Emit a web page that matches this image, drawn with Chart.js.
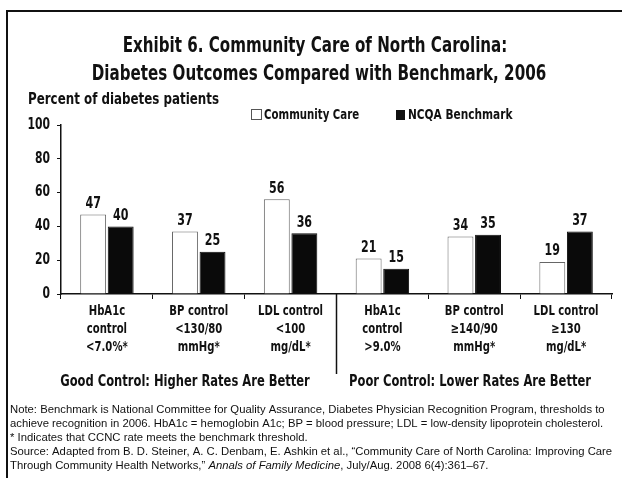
<!DOCTYPE html>
<html>
<head>
<meta charset="utf-8">
<script src="https://cdn.jsdelivr.net/npm/chart.js@4"></script>
<style>
html,body{margin:0;padding:0;background:#fff;}
#wrap{position:relative;width:622px;height:478px;}
</style>
</head>
<body>
<div id="wrap"><canvas id="myChart" width="622" height="478"></canvas></div>
<script>
// data
var categories=[
  ["HbA1c","control","<7.0%*"],
  ["BP control","<130/80","mmHg*"],
  ["LDL control","<100","mg/dL*"],
  ["HbA1c","control",">9.0%"],
  ["BP control","\u2265140/90","mmHg*"],
  ["LDL control","\u2265130","mg/dL*"]
];
var communityCare=[47,37,56,21,34,19];
var ncqaBenchmark=[40,25,36,15,35,37];
var yTicks=[0,20,40,60,80,100];
var groupLabels=["Good Control: Higher Rates Are Better","Poor Control: Lower Rates Are Better"];
var titleLines=["Exhibit 6. Community Care of North Carolina:","Diabetes Outcomes Compared with Benchmark, 2006"];
var notes=[
  "Note: Benchmark is National Committee for Quality Assurance, Diabetes Physician Recognition Program, thresholds to",
  "achieve recognition in 2006. HbA1c = hemoglobin A1c; BP = blood pressure; LDL = low-density lipoprotein cholesterol.",
  "* Indicates that CCNC rate meets the benchmark threshold.",
  "Source: Adapted from B. D. Steiner, A. C. Denbam, E. Ashkin et al., \u201cCommunity Care of North Carolina: Improving Care",
  "Through Community Health Networks,\u201d |Annals of Family Medicine|, July/Aug. 2008 6(4):361\u201367."
];

var narrow='"Liberation Sans Narrow","DejaVu Sans Condensed","Arial Narrow",sans-serif';
var plain='"Liberation Sans","DejaVu Sans",sans-serif';

// squeeze text sideways, the original face is a condensed one
function sText(ctx,txt,x,y,sx){
  ctx.save();
  ctx.translate(x,y);
  ctx.scale(sx,1);
  ctx.fillText(txt,0,0);
  ctx.restore();
}

var extras={
  id:'extras',
  afterDraw:function(chart){
    var ctx=chart.ctx;
    var xs=chart.scales.x, ys=chart.scales.y;
    ctx.save();
    // frame (left + top)
    ctx.strokeStyle='#111';
    ctx.lineWidth=2;
    ctx.beginPath();
    ctx.moveTo(7,478);ctx.lineTo(7,11);ctx.lineTo(622,11);
    ctx.stroke();
    // title
    ctx.fillStyle='#111';
    ctx.textAlign='center';
    ctx.textBaseline='middle';
    ctx.font='bold 21px '+narrow;
    sText(ctx,titleLines[0],315,47,0.8);
    sText(ctx,titleLines[1],319,75,0.8);
    // y axis title
    ctx.textAlign='left';
    ctx.font='bold 15px '+narrow;
    sText(ctx,"Percent of diabetes patients",28,100,0.88);
    // legend
    ctx.font='bold 14px '+narrow;
    ctx.lineWidth=1;
    ctx.strokeStyle='#555';
    ctx.fillStyle='#fff';
    ctx.fillRect(251.5,109.5,10,10);
    ctx.strokeRect(251.5,109.5,10,10);
    ctx.fillStyle='#111';
    sText(ctx,"Community Care",264,115,0.81);
    ctx.fillRect(396,110,9,10);
    sText(ctx,"NCQA Benchmark",408,115,0.84);
    // y tick labels
    ctx.textAlign='right';
    ctx.font='bold 15px '+narrow;
    ys.ticks.forEach(function(t){
      sText(ctx,String(t.value),50,ys.getPixelForValue(t.value),0.8);
    });
    // x tick labels
    ctx.textAlign='center';
    ctx.font='bold 14px '+narrow;
    chart.data.labels.forEach(function(lines,i){
      var x=xs.getPixelForValue(i);
      lines.forEach(function(l,k){
        sText(ctx,l,x,311+18*k,0.8);
      });
    });
    // value labels
    ctx.textBaseline='bottom';
    ctx.font='bold 15px '+narrow;
    chart.data.datasets.forEach(function(ds,di){
      chart.getDatasetMeta(di).data.forEach(function(bar,i){
        sText(ctx,String(ds.data[i]),bar.x,bar.y-3,0.82);
      });
    });
    // divider between groups
    var mid=(xs.getPixelForValue(2)+xs.getPixelForValue(3))/2;
    ctx.strokeStyle='#111';
    ctx.lineWidth=1.5;
    ctx.beginPath();
    ctx.moveTo(mid,ys.bottom);ctx.lineTo(mid,374);
    ctx.stroke();
    // group labels
    ctx.textBaseline='middle';
    ctx.font='bold 16px '+narrow;
    sText(ctx,groupLabels[0],185,382,0.8);
    sText(ctx,groupLabels[1],470,382,0.8);
    // notes
    ctx.textAlign='left';
    var y=410;
    notes.forEach(function(line){
      var parts=line.split('|');
      var x=10;
      parts.forEach(function(p,k){
        ctx.font=(k%2?'italic ':'')+'11.3px '+plain;
        ctx.fillText(p,x,y);
        x+=ctx.measureText(p).width;
      });
      y+=14;
    });
    ctx.restore();
  }
};

const data={
  labels:categories,
  datasets:[{
    label:'Community Care',
    data:communityCare,
    backgroundColor:'#fff',
    borderColor:'#666',
    borderWidth:1
  },{
    label:'NCQA Benchmark',
    data:ncqaBenchmark,
    backgroundColor:'#0a0a0a',
    borderColor:'#0a0a0a',
    borderWidth:1
  }]
};

const config={
  type:'bar',
  data:data,
  options:{
    responsive:false,
    animation:false,
    layout:{padding:{left:0,right:10,top:125,bottom:0}},
    categoryPercentage:0.6,
    barPercentage:0.94,
    plugins:{legend:{display:false},title:{display:false},tooltip:{enabled:false}},
    scales:{
      x:{
        grid:{display:true,offset:true,drawOnChartArea:false,drawTicks:true,tickLength:5,color:'#111'},
        border:{color:'#111',width:1.5},
        ticks:{display:false},
        afterFit:function(s){s.height=184;}
      },
      y:{
        min:0,max:100,
        afterBuildTicks:function(s){s.ticks=yTicks.map(function(v){return {value:v};});},
        grid:{display:true,drawOnChartArea:false,drawTicks:true,tickLength:4,color:'#111'},
        border:{color:'#111',width:1.5},
        ticks:{display:false},
        afterFit:function(s){s.width=61;}
      }
    }
  },
  plugins:[extras]
};
const myChart=new Chart(document.getElementById('myChart'),config);
</script>
</body>
</html>
